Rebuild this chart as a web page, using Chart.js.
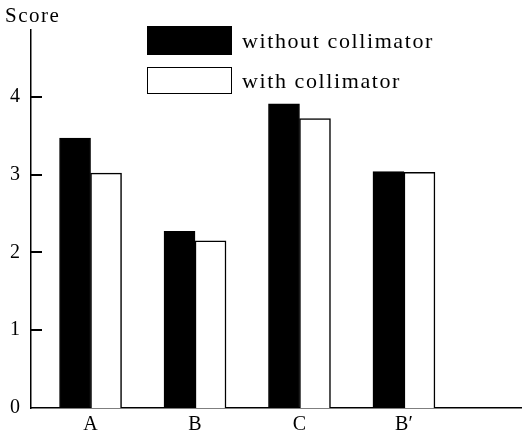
<!DOCTYPE html>
<html>
<head>
<meta charset="utf-8">
<script src="https://cdn.jsdelivr.net/npm/chart.js@4/dist/chart.umd.min.js"></script>
<style>
  html, body { margin: 0; padding: 0; background: #fff; }
  #wrap { position: relative; width: 522px; height: 436px; }
  #c { display: block; }
  #ylab { position: absolute; left: 5px; top: 3px; font: 21px "Liberation Serif", serif; letter-spacing: 1.5px; color: #000; }
  #legend { position: absolute; left: 0; top: 0; width: 0; height: 0; }
  .leg { position: absolute; left: 147px; display: flex; align-items: center; font: 22px "Liberation Serif", serif; letter-spacing: 1.6px; color: #000; white-space: nowrap; }
  .leg .box { width: 85px; box-sizing: border-box; margin-right: 10px; }
</style>
</head>
<body>
<div id="wrap">
  <canvas id="c" width="522" height="436"></canvas>
  <div id="ylab">Score</div>
  <div id="legend"></div>
</div>
<script>
const categories = ['A', 'B', 'C', 'B\u2032'];
const seriesNames = ['without collimator', 'with collimator'];
const withoutCollimator = [3.47, 2.27, 3.91, 3.04];
const withCollimator = [3.02, 2.15, 3.72, 3.03];
const yTicks = [0, 1, 2, 3, 4];

const serif = '"Liberation Serif", "Times New Roman", serif';

// short tick marks drawn inward from the y axis, at the scale's tick values
const innerTicks = {
  id: 'innerTicks',
  afterDraw(chart) {
    const y = chart.scales.y;
    const x0 = chart.chartArea.left;
    const ctx = chart.ctx;
    ctx.save();
    ctx.globalAlpha = 1;
    ctx.globalCompositeOperation = 'source-over';
    ctx.setLineDash([]);
    ctx.strokeStyle = '#000';
    ctx.lineWidth = 2;
    yTicks.filter(v => v > 0).forEach(v => {
      const py = Math.round(y.getPixelForValue(v));
      ctx.beginPath();
      ctx.moveTo(x0, py);
      ctx.lineTo(x0 + 11, py);
      ctx.stroke();
    });
    ctx.restore();
  }
};

const chart = new Chart(document.getElementById('c'), {
  type: 'bar',
  data: {
    datasets: [
      {
        label: seriesNames[0],
        data: withoutCollimator.map((v, i) => ({ x: i, y: v })),
        backgroundColor: '#000',
        borderColor: '#000',
        borderWidth: 1
      },
      {
        label: seriesNames[1],
        data: withCollimator.map((v, i) => ({ x: i, y: v })),
        backgroundColor: '#fff',
        borderColor: '#000',
        borderWidth: 1.5
      }
    ]
  },
  plugins: [innerTicks],
  options: {
    responsive: false,
    animation: false,
    barThickness: 31,
    layout: { padding: { top: 30, right: 0, left: 0, bottom: 0 } },
    plugins: { legend: { display: false }, tooltip: { enabled: false } },
    scales: {
      x: {
        type: 'linear',
        offset: false,
        min: -0.57,
        max: 4.13,
        grid: { display: false, drawTicks: false, offset: false },
        border: { display: true, color: '#000', width: 1.5 },
        ticks: {
          stepSize: 1,
          includeBounds: false,
          padding: 5,
          color: '#000',
          font: { family: serif, size: 20 },
          callback: v => categories[v] !== undefined ? categories[v] : ''
        },
        afterFit: s => { s.height = 28; }
      },
      y: {
        min: 0,
        max: 4.86,
        grid: { display: false, drawTicks: false },
        border: { display: true, color: '#000', width: 1.5 },
        ticks: {
          stepSize: 1,
          includeBounds: false,
          padding: 11,
          color: '#000',
          font: { family: serif, size: 20 },
          callback: v => yTicks.includes(v) ? String(v) : ''
        },
        afterFit: s => { s.width = 31; }
      }
    }
  }
});

// legend built from the chart's datasets
const legend = document.getElementById('legend');
const legTops = [26, 67];
const legHeights = [29, 27];
chart.data.datasets.forEach((ds, i) => {
  const row = document.createElement('div');
  row.className = 'leg';
  row.style.top = legTops[i] + 'px';
  const box = document.createElement('div');
  box.className = 'box';
  box.style.height = legHeights[i] + 'px';
  box.style.background = ds.backgroundColor;
  box.style.border = '1.5px solid ' + ds.borderColor;
  const txt = document.createElement('span');
  txt.textContent = ds.label;
  row.appendChild(box);
  row.appendChild(txt);
  legend.appendChild(row);
});
</script>
</body>
</html>
